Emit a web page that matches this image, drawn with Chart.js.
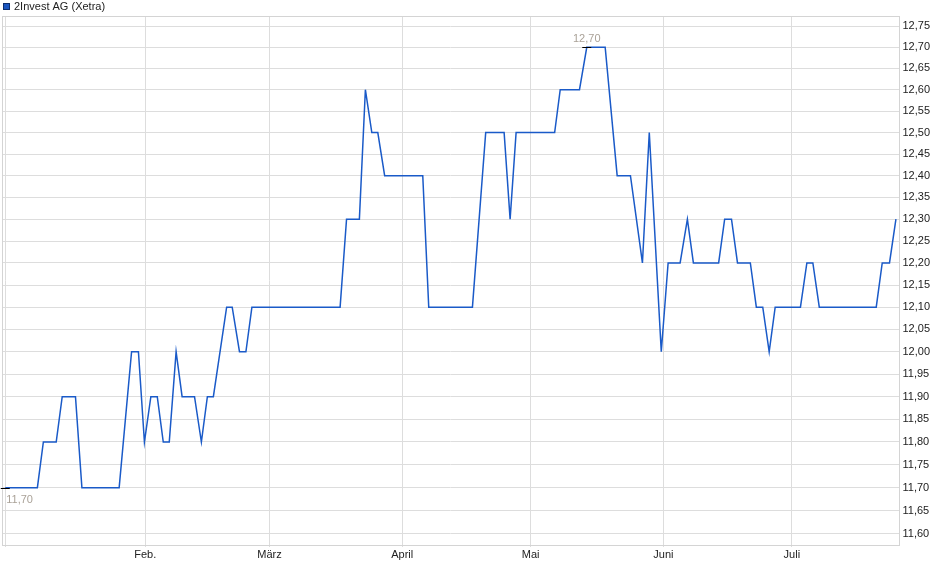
<!DOCTYPE html>
<html><head><meta charset="utf-8">
<script src="https://cdn.jsdelivr.net/npm/chart.js@4.4.1/dist/chart.umd.min.js"></script>
<style>html,body{margin:0;padding:0;background:#fff;overflow:hidden}canvas{display:block}</style>
</head><body>
<canvas id="c" width="940" height="579"></canvas>
<script>
const seriesName = '2Invest AG (Xetra)';
// x: calendar day number (0 = 1 Jan), y: price in EUR
const days = [-1.7, 5.8, 7.2, 10.2, 11.6, 14.7, 16.2, 24.9, 27.8, 29.4, 30.8, 32.3, 33.8, 35.2, 36.6, 38.2, 39.6, 42.5, 44.1, 45.5, 46.9, 50.0, 51.3, 53.0, 54.5, 55.9, 76.5, 78.0, 81.0, 82.4, 83.9, 85.3, 86.9, 95.8, 97.2, 107.4, 110.5, 114.8, 116.2, 117.6, 126.6, 127.9, 132.4, 134.1, 138.4, 141.2, 144.3, 147.1, 148.7, 151.5, 153.1, 155.9, 157.6, 159.0, 164.9, 166.3, 167.9, 169.3, 172.3, 173.7, 175.2, 176.7, 178.1, 184.0, 185.5, 186.9, 188.4, 201.7, 203.1, 204.8, 206.3];
const prices = [11.70, 11.70, 11.80, 11.80, 11.90, 11.90, 11.70, 11.70, 12.00, 12.00, 11.80, 11.90, 11.90, 11.80, 11.80, 12.00, 11.90, 11.90, 11.80, 11.90, 11.90, 12.10, 12.10, 12.00, 12.00, 12.10, 12.10, 12.30, 12.30, 12.60, 12.50, 12.50, 12.40, 12.40, 12.10, 12.10, 12.50, 12.50, 12.30, 12.50, 12.50, 12.60, 12.60, 12.70, 12.70, 12.40, 12.40, 12.20, 12.50, 12.00, 12.20, 12.20, 12.30, 12.20, 12.20, 12.30, 12.30, 12.20, 12.20, 12.10, 12.10, 12.00, 12.10, 12.10, 12.20, 12.20, 12.10, 12.10, 12.20, 12.20, 12.30];
const monthDays = [-1.7, 31, 60, 91, 121, 152, 182];
const monthLabels = ['', 'Feb.', 'März', 'April', 'Mai', 'Juni', 'Juli'];
const yTickValues = [11.60, 11.65, 11.70, 11.75, 11.80, 11.85, 11.90, 11.95, 12.00, 12.05, 12.10, 12.15, 12.20, 12.25, 12.30, 12.35, 12.40, 12.45, 12.50, 12.55, 12.60, 12.65, 12.70, 12.75];

const FONT = 'Arial, "Liberation Sans", sans-serif';
const fmt = v => v.toFixed(2).replace('.', ',');

const framePlugin = {
  id: 'frame',
  beforeDatasetsDraw(chart) {
    const {ctx, chartArea: a} = chart;
    ctx.save();
    ctx.strokeStyle = '#d4d4d4';
    ctx.lineWidth = 1;
    ctx.strokeRect(Math.round(a.left) + 0.5, Math.round(a.top) + 0.5,
      Math.round(a.right) - Math.round(a.left), Math.round(a.bottom) - Math.round(a.top));
    ctx.restore();
  }
};

const legendPlugin = {
  id: 'customLegend',
  afterDraw(chart) {
    const ctx = chart.ctx;
    ctx.save();
    ctx.fillStyle = '#1a56c0';
    ctx.fillRect(3, 3, 7, 7);
    ctx.strokeStyle = '#0d2e6e';
    ctx.lineWidth = 1;
    ctx.strokeRect(3.5, 3.5, 6, 6);
    ctx.fillStyle = '#222';
    ctx.font = '11px ' + FONT;
    ctx.textBaseline = 'middle';
    ctx.textAlign = 'left';
    ctx.fillText(seriesName, 14, 7);
    ctx.restore();
  }
};

const extremaPlugin = {
  id: 'extrema',
  afterDatasetsDraw(chart) {
    const ctx = chart.ctx;
    const xs = chart.scales.x, ys = chart.scales.y;
    const minV = Math.min(...prices), maxV = Math.max(...prices);
    const iMin = prices.indexOf(minV), iMax = prices.indexOf(maxV);
    ctx.save();
    ctx.font = '11px ' + FONT;
    ctx.fillStyle = '#aaa298';
    ctx.strokeStyle = '#000';
    ctx.lineWidth = 1;
    // min
    let px = xs.getPixelForValue(days[iMin]), py = Math.round(ys.getPixelForValue(minV)) + 0.5;
    ctx.beginPath(); ctx.moveTo(px - 4.5, py); ctx.lineTo(px + 4.5, py); ctx.stroke();
    ctx.textAlign = 'left'; ctx.textBaseline = 'middle';
    ctx.fillText(fmt(minV), px + 1, py + 11);
    // max
    px = xs.getPixelForValue(days[iMax]); py = Math.round(ys.getPixelForValue(maxV)) + 0.5;
    ctx.beginPath(); ctx.moveTo(px - 4.5, py); ctx.lineTo(px + 4.5, py); ctx.stroke();
    ctx.textAlign = 'center'; ctx.textBaseline = 'middle';
    ctx.fillText(fmt(maxV), px, py - 9);
    ctx.restore();
  }
};

new Chart(document.getElementById('c'), {
  type: 'line',
  data: {
    datasets: [{
      label: seriesName,
      data: days.map((d, i) => ({x: d, y: prices[i]})),
      borderColor: '#1a5ac8',
      borderWidth: 1.5,
      pointRadius: 0,
      tension: 0,
      fill: false
    }]
  },
  options: {
    responsive: false,
    animation: false,
    devicePixelRatio: 1,
    layout: {padding: {left: 2, top: 16, right: 0, bottom: 0}},
    plugins: {legend: {display: false}, tooltip: {enabled: false}},
    scales: {
      x: {
        type: 'linear',
        min: -2.46,
        max: 206.9,
        afterBuildTicks: s => { s.ticks = monthDays.map(v => ({value: v})); },
        afterFit: s => { s.height = 34; },
        grid: {color: '#dddddd', lineWidth: 1, tickLength: 2, drawTicks: true},
        border: {display: false},
        ticks: {
          autoSkip: false, maxRotation: 0, padding: 1,
          color: '#222', font: {family: FONT, size: 11},
          callback: (v, i) => monthLabels[i]
        }
      },
      y: {
        type: 'logarithmic',
        position: 'right',
        min: 11.5758,
        max: 12.7742,
        afterBuildTicks: s => { s.ticks = yTickValues.map(v => ({value: v})); },
        afterFit: s => { s.width = 41.5; },
        grid: {color: '#dddddd', lineWidth: 1, drawTicks: false},
        border: {display: false},
        ticks: {
          autoSkip: false, padding: 4,
          color: '#222', font: {family: FONT, size: 11},
          callback: v => fmt(v)
        }
      }
    }
  },
  plugins: [framePlugin, legendPlugin, extremaPlugin]
});
</script>
</body></html>
